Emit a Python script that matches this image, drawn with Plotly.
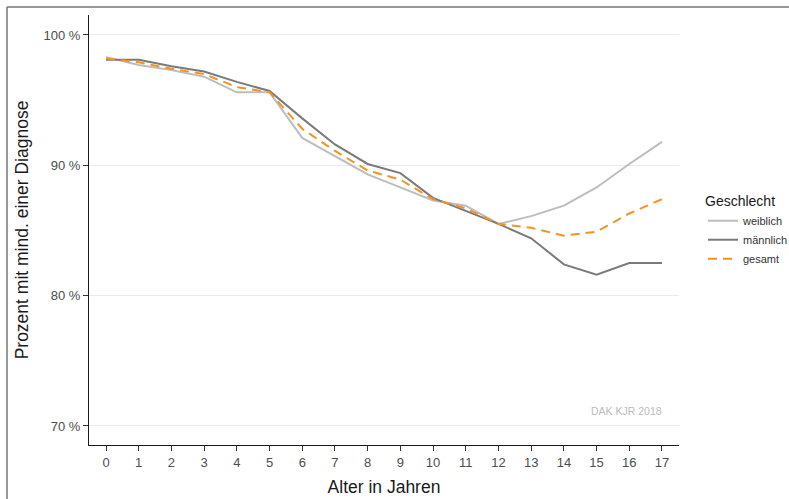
import plotly.graph_objects as go

alter = list(range(18))
weiblich = [98.3, 97.7, 97.3, 96.8, 95.6, 95.6, 92.1, 90.7, 89.3, 88.3, 87.3, 86.9, 85.5, 86.1, 86.9, 88.3, 90.1, 91.8]
maennlich = [98.1, 98.1, 97.6, 97.2, 96.4, 95.7, 93.6, 91.6, 90.1, 89.4, 87.5, 86.5, 85.5, 84.4, 82.4, 81.6, 82.5, 82.5]
gesamt = [98.2, 97.9, 97.4, 97.0, 96.0, 95.6, 92.8, 91.1, 89.6, 88.9, 87.4, 86.7, 85.5, 85.2, 84.6, 84.9, 86.3, 87.4]
y_ticks = [70, 80, 90, 100]
y_ticklabels = ["70 %", "80 %", "90 %", "100 %"]

FONT = "Liberation Sans, Arial, sans-serif"

fig = go.Figure()
fig.add_trace(go.Scatter(x=alter, y=weiblich, mode="lines", name="weiblich",
                         line=dict(color="#bdbdbd", width=2)))
fig.add_trace(go.Scatter(x=alter, y=maennlich, mode="lines", name="männlich",
                         line=dict(color="#7a7a7a", width=2)))
fig.add_trace(go.Scatter(x=alter, y=gesamt, mode="lines", name="gesamt",
                         line=dict(color="#f39323", width=2, dash="9px,6px")))

fig.update_layout(
    width=789, height=499,
    margin=dict(l=89, r=110, t=15, b=54, autoexpand=False),
    paper_bgcolor="white", plot_bgcolor="white",
    font=dict(family=FONT, color="#4d4d4d"),
    showlegend=True,
    legend=dict(
        title=dict(text="Geschlecht", font=dict(size=14, color="#1a1a1a", family=FONT)),
        font=dict(size=11, color="#333333", family=FONT),
        xref="container", yref="container",
        x=0.891, y=0.6232, xanchor="left", yanchor="top",
        bgcolor="rgba(0,0,0,0)", itemwidth=30, tracegroupgap=0,
    ),
    xaxis=dict(
        range=[-0.52, 17.52], tickmode="array", tickvals=alter,
        ticktext=[str(a) for a in alter],
        showgrid=False, zeroline=False, automargin=False,
        showline=True, linecolor="#1a1a1a", linewidth=1.2,
        ticks="outside", ticklen=5, tickcolor="#333333", tickwidth=1.2,
        tickfont=dict(size=13, color="#4d4d4d"),
        title=dict(text="Alter in Jahren", font=dict(size=17.5, color="#1a1a1a"), standoff=12),
    ),
    yaxis=dict(
        range=[68.54, 101.53], tickmode="array", tickvals=y_ticks, ticktext=y_ticklabels,
        showgrid=True, gridcolor="#ebebeb", gridwidth=1, zeroline=False, automargin=False,
        showline=True, linecolor="#1a1a1a", linewidth=1.2,
        ticks="outside", ticklen=5, tickcolor="#333333", tickwidth=1.2,
        tickfont=dict(size=13, color="#4d4d4d"),
        title=dict(text="Prozent mit mind. einer Diagnose", font=dict(size=17.5, color="#1a1a1a"), standoff=10),
    ),
    annotations=[dict(text="DAK KJR 2018", x=17.06, y=71.15, xref="x", yref="y",
                      xanchor="right", yanchor="middle", showarrow=False,
                      font=dict(size=10.5, color="#bbbbbb", family=FONT))],
    shapes=[
        dict(type="line", xref="paper", yref="paper", x0=-0.139, x1=1.2, y0=1.0186, y1=1.0186,
             line=dict(color="#777777", width=1.5)),
        dict(type="line", xref="paper", yref="paper", x0=-0.139, x1=-0.139, y0=1.0186, y1=-0.13,
             line=dict(color="#777777", width=1.5)),
    ],
)

fig.write_html(
    "out.html",
    config={"displayModeBar": False},
    post_script="document.body.style.margin='0';document.documentElement.style.overflow='hidden';document.body.style.overflow='hidden';",
)
